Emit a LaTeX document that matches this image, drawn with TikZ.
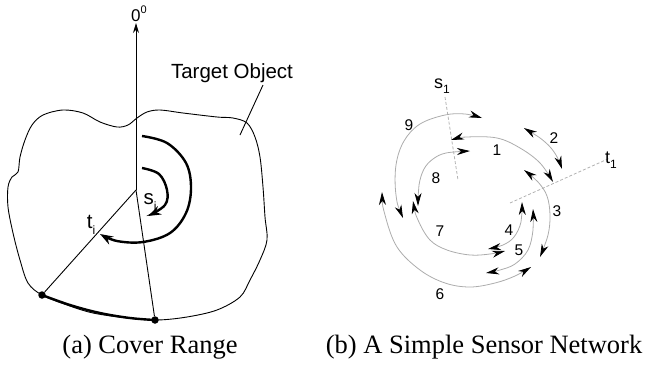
\documentclass[tikz,border=0pt]{standalone}
\usepackage{fontspec}
\setmainfont{Liberation Serif}
\newfontfamily\arialf{Liberation Sans}
\usetikzlibrary{arrows.meta}
\newcommand\lowsub[2]{\raisebox{-0.3em}{\fontsize{#1}{#1}\selectfont #2}}
\newcommand\highsup[2]{\raisebox{0.45em}{\fontsize{#1}{#1}\selectfont #2}}
\begin{document}
\begin{tikzpicture}[x=1pt,y=-1pt,
  lbl/.style={font=\arialf\fontsize{15.5}{15.5}\selectfont, inner sep=0pt},
  biglbl/.style={font=\arialf\fontsize{20.5}{20.5}\selectfont, inner sep=0pt},
  captext/.style={font=\fontsize{26.5}{26.5}\selectfont, inner sep=0pt},
  outline/.style={line width=0.9pt, black},
  thickarc/.style={line width=2.4pt, black},
  bigtip/.style={-{Stealth[length=13pt,width=9pt]}},
  net/.style={draw=gray!65, line width=0.8pt},
  nettip/.style={Stealth[length=13pt,width=7pt,inset=4pt,color=black,line width=0.4pt]},
  bi/.style={{Stealth[length=13pt,width=7pt,inset=4pt,color=black]}-{Stealth[length=13pt,width=7pt,inset=4pt,color=black]}},
  dashline/.style={draw=gray!60, line width=0.8pt, dash pattern=on 3pt off 2pt},
  dotnode/.style={circle, fill=black, inner sep=0pt, minimum size=7.5pt}
]
\useasboundingbox (0,0) rectangle (655,367);

% ---------------- (a) Cover Range ----------------
\coordinate (c) at (136,190);
\coordinate (top) at (136,23);
\node[dotnode] (d1) at (42,295) {};
\node[dotnode] (d2) at (155,320) {};

% target object outline
\draw[outline] plot[smooth cycle, tension=0.55] coordinates {
 (25,140) (32,125) (43,115) (63,110) (83,113) (100,122) (117,127) (128,125)
 (137,118) (147,112) (160,110) (183,113) (217,117) (233,118) (247,123)
 (255,137) (260,157) (263,187) (265,217) (267,240) (260,260) (250,280)
 (240,297) (217,310) (187,317) (157,320) (127,318) (93,313) (67,305)
 (42,295) (28,283) (20,260) (13,233) (8,207) (8,187) (12,177) (18,172)
 (20,157)};

\draw[outline, -{Stealth[length=10pt,width=6pt]}] (c) -- (top);
\node[inner sep=0pt, font=\arialf\fontsize{17}{17}\selectfont] (zero) at (139,14) {0\highsup{11}{0}};
\draw[outline] (c) -- (d1);
\draw[outline] (c) -- (d2);
\draw[thickarc] plot[smooth, tension=0.6] coordinates {(42,295) (70,305) (100,313) (130,318) (155,320)};

\draw[thickarc, bigtip] plot[smooth, tension=0.6] coordinates {
 (142,136) (167,143) (186,163) (191,188) (186,213) (170,233) (143,242) (117,241) (100,234)};
\draw[thickarc, bigtip] plot[smooth, tension=0.6] coordinates {
 (142,168) (159,174) (167,190) (165,205) (148,216)};

\node[biglbl] (target) at (232,73) {Target Object};
\coordinate (lead1) at (263,85);
\coordinate (lead2) at (240,135);
\draw[outline] (lead1) -- (lead2);
\node[biglbl] (si) at (150,202) {s\lowsub{12}{i}};
\node[biglbl] (ti) at (91,225) {t\lowsub{12}{i}};

% ---------------- (b) Sensor Network ----------------
\coordinate (s1a) at (445,97);
\coordinate (s1b) at (458,180);
\coordinate (t1a) at (510,203);
\coordinate (t1b) at (610,158);
\draw[dashline] (s1a) -- (s1b);
\draw[dashline] (t1a) -- (t1b);
\node[biglbl, font=\arialf\fontsize{18}{18}\selectfont] (s1) at (442,86) {s\lowsub{12}{1}};
\node[biglbl, font=\arialf\fontsize{18}{18}\selectfont] (t1) at (611,160) {t\lowsub{12}{1}};

% arc 9
\draw[net, bi] plot[smooth, tension=0.6] coordinates {
 (403,218) (396,195) (396,165) (404,141) (420,124) (445,115) (465,114) (482,118)};
% arc 1
\draw[net, bi] plot[smooth, tension=0.6] coordinates {
 (451,140) (467,137) (497,138) (520,148) (540,163) (553,182)};
% arc 2
\draw[net, bi] plot[smooth, tension=0.6] coordinates {
 (524,128) (545,142) (556,155) (562,169)};
% arc 3
\draw[net, bi] plot[smooth, tension=0.6] coordinates {
 (524,170) (538,182) (547,196) (550,215) (548,235) (540,257)};
% arc 8
\draw[net, bi] plot[smooth, tension=0.6] coordinates {
 (418,206) (419,185) (424,169) (433,159) (446,153) (470,151)};
% arc 7
\draw[net, bi] plot[smooth, tension=0.6] coordinates {
 (413,201) (418,220) (430,240) (447,250) (470,255) (490,254) (505,251)};
% arc 4
\draw[net, bi] plot[smooth, tension=0.6] coordinates {
 (522,202) (521,222) (514,237) (503,245) (488,249)};
% arc 5
\draw[net, bi] plot[smooth, tension=0.6] coordinates {
 (533,209) (533,230) (528,250) (515,264) (500,270) (486,273)};
% arc 6
\draw[net, bi] plot[smooth, tension=0.6] coordinates {
 (382,192) (385,215) (397,247) (420,270) (445,283) (470,287) (495,283) (515,276) (531,267)};

\node[lbl] (n9) at (409,125) {9};
\node[lbl] (n1) at (497,150) {1};
\node[lbl] (n2) at (554,138) {2};
\node[lbl] (n8) at (436,178) {8};
\node[lbl] (n3) at (557,211) {3};
\node[lbl] (n4) at (509,230) {4};
\node[lbl] (n7) at (440,231) {7};
\node[lbl] (n5) at (519,250) {5};
\node[lbl] (n6) at (440,294) {6};

% captions
\node[captext] (capa) at (150,347) {(a) Cover Range};
\node[captext] (capb) at (484,347) {(b) A Simple Sensor Network};
\end{tikzpicture}
\end{document}
